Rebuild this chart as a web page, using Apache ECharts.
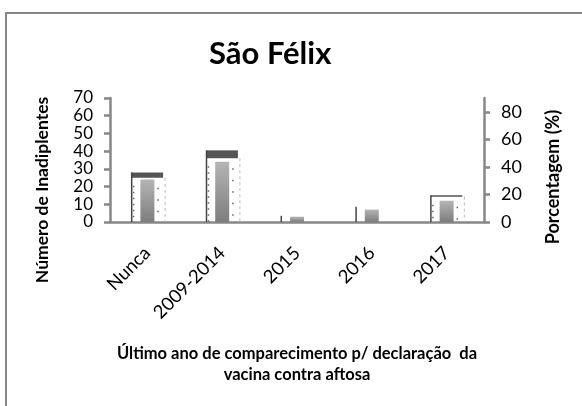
<!DOCTYPE html>
<html>
<head>
<meta charset="utf-8">
<script src="https://cdn.jsdelivr.net/npm/echarts@6/dist/echarts.min.js"></script>
<style>
  html, body { margin: 0; padding: 0; background: #fff; }
  #chart { width: 582px; height: 406px; }
</style>
</head>
<body>
<div id="chart"></div>
<script>
// dados
var categorias = ['Nunca', '2009-2014', '2015', '2016', '2017'];
var inadimplentes = [24, 34, 3, 7, 12];          // eixo esquerdo
var porcentagem = [36, 52, 4.5, 11, 19.5];       // eixo direito (%)
var ticksPorcentagem = [0, 20, 40, 60, 80];

var fonte = 'Lato';
var cinzaEixo = '#878787';

var chart = echarts.init(document.getElementById('chart'));

// barra "3D" de contorno para a porcentagem
function desenhaContorno(params, api) {
    var topo = api.coord([api.value(0), api.value(1)]);
    var base = api.coord([api.value(0), 0]);
    var w = api.size([1, 0])[0] * 0.42;
    var x0 = topo[0] - w / 2;
    var h = base[1] - topo[1];
    var capH = h > 40 ? h * 0.11 : (h > 20 ? 1.5 : 0);
    var filhos = [];
    if (capH > 0) {
        filhos.push({
            type: 'rect',
            shape: {x: x0, y: topo[1], width: w, height: capH},
            style: {fill: '#555'}
        });
    }
    filhos.push({
        type: 'line',
        shape: {x1: x0, y1: topo[1], x2: x0, y2: base[1]},
        style: {stroke: '#444', lineWidth: 1.5}
    });
    if (h > 20) {
        filhos.push({
            type: 'line',
            shape: {x1: x0 + 2, y1: topo[1] + capH + 8, x2: x0 + 2, y2: base[1]},
            style: {stroke: '#666', lineWidth: 1.5, lineDash: [1.5, 4.5]}
        });
        filhos.push({
            type: 'line',
            shape: {x1: x0 + w - 5, y1: topo[1] + capH + 10, x2: x0 + w - 5, y2: base[1]},
            style: {stroke: '#666', lineWidth: 1.5, lineDash: [1.5, 10]}
        });
        filhos.push({
            type: 'line',
            shape: {x1: x0 + w + 2, y1: topo[1] + capH, x2: x0 + w + 2, y2: base[1]},
            style: {stroke: '#bbb', lineWidth: 1, lineDash: [3, 3]}
        });
    }
    return {type: 'group', children: filhos};
}

var option = {
    backgroundColor: '#fff',
    animation: false,
    title: {
        text: 'São Félix',
        left: 204,
        top: 33,
        textStyle: {fontFamily: fonte, fontSize: 31, fontWeight: 'bold', color: '#000'}
    },
    grid: {left: 110, right: 98, top: 98, bottom: 184},
    xAxis: {
        type: 'category',
        data: categorias,
        axisLine: {lineStyle: {color: cinzaEixo, width: 2.5}},
        axisTick: {length: 7, lineStyle: {color: cinzaEixo, width: 2.5}},
        axisLabel: {
            rotate: 45, margin: 28, color: '#000',
            fontFamily: fonte, fontSize: 18.5, interval: 0
        }
    },
    yAxis: [
        {
            type: 'value', min: 0, max: 70, interval: 10, position: 'left',
            splitLine: {show: false},
            axisLine: {show: true, lineStyle: {color: cinzaEixo, width: 2.5}},
            axisTick: {show: true, length: 6, lineStyle: {color: cinzaEixo, width: 2.5}},
            axisLabel: {margin: 17, color: '#000', fontFamily: fonte, fontSize: 17,
                lineHeight: 15, showMinLabel: true, showMaxLabel: true}
        },
        {
            type: 'value', min: 0, max: 90, interval: 10, position: 'right',
            splitLine: {show: false},
            axisLine: {show: true, lineStyle: {color: cinzaEixo, width: 2.5}},
            axisTick: {show: true, length: 6, customValues: ticksPorcentagem,
                lineStyle: {color: cinzaEixo, width: 2.5}},
            axisLabel: {margin: 17, color: '#000', fontFamily: fonte, fontSize: 18,
                customValues: ticksPorcentagem}
        }
    ],
    graphic: [
        {
            type: 'rect', silent: true, z: -1,
            shape: {x: 6, y: 13, width: 640, height: 460},
            style: {fill: null, stroke: '#888', lineWidth: 2}
        },
        {
            type: 'text', rotation: Math.PI / 2, x: 42, y: 190,
            style: {text: 'Número de Inadiplentes', fontFamily: fonte, fontSize: 17.5,
                fontWeight: 'bold', fill: '#000', align: 'center', verticalAlign: 'middle'}
        },
        {
            type: 'text', rotation: Math.PI / 2, x: 553, y: 177,
            style: {text: 'Porcentagem (%)', fontFamily: fonte, fontSize: 18,
                fontWeight: 'bold', fill: '#000', align: 'center', verticalAlign: 'middle'}
        },
        {
            type: 'text', x: 297, y: 364,
            style: {text: 'Último ano de comparecimento p/ declaração  da\nvacina contra aftosa',
                fontFamily: fonte, fontSize: 16.5, fontWeight: 'bold', fill: '#000',
                align: 'center', verticalAlign: 'middle', lineHeight: 21}
        }
    ],
    series: [
        {
            name: 'Porcentagem',
            type: 'custom',
            yAxisIndex: 1,
            z: 1,
            renderItem: desenhaContorno,
            data: porcentagem.map(function (v, i) { return [i, v]; })
        },
        {
            name: 'Número de Inadiplentes',
            type: 'bar',
            yAxisIndex: 0,
            z: 3,
            barWidth: 14,
            itemStyle: {
                color: new echarts.graphic.LinearGradient(0, 0, 0, 1, [
                    {offset: 0, color: '#b5b5b5'},
                    {offset: 1, color: '#7d7d7d'}
                ])
            },
            data: inadimplentes
        }
    ]
};
chart.setOption(option);
</script>
</body>
</html>
